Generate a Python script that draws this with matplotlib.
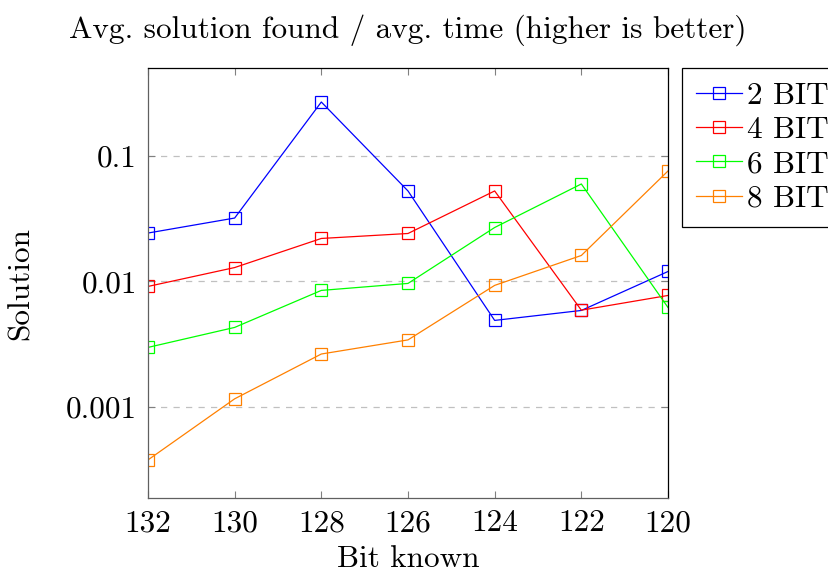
import matplotlib
matplotlib.use("Agg")
import matplotlib.pyplot as plt
from matplotlib.ticker import FixedLocator, NullLocator

plt.rcParams["font.family"] = ["cmr10", "DejaVu Serif"]
plt.rcParams["mathtext.fontset"] = "cm"
plt.rcParams["axes.formatter.use_mathtext"] = True

bits_known = [132, 130, 128, 126, 124, 122, 120]
bit_2 = [0.0243, 0.0320, 0.269, 0.0526, 0.00489, 0.00587, 0.0120]
bit_4 = [0.00912, 0.0129, 0.0220, 0.0241, 0.0526, 0.00590, 0.00773]
bit_6 = [0.00298, 0.00430, 0.00848, 0.00964, 0.0269, 0.0598, 0.00620]
bit_8 = [0.000378, 0.00116, 0.00264, 0.00342, 0.00930, 0.0161, 0.0759]
series_labels = ["2 BIT", "4 BIT", "6 BIT", "8 BIT"]
series_colors = ["#0000ff", "#ff0000", "#00ff00", "#ff8000"]
y_tick_values = [0.001, 0.01, 0.1]
y_tick_labels = ["0.001", "0.01", "0.1"]

FS = 22.5

fig = plt.figure(figsize=(8.29, 5.73), dpi=100)
ax = fig.add_axes([0.1785, 0.1309, 0.6273, 0.7504])

for ys, lab, col in zip([bit_2, bit_4, bit_6, bit_8], series_labels, series_colors):
    ax.plot(bits_known, ys, color=col, lw=0.9, marker="s", markersize=8,
            markerfacecolor="none", markeredgecolor=col, markeredgewidth=0.9,
            label=lab)

ax.set_yscale("log")
ax.set_ylim(1.88e-4, 0.502)
ax.set_xlim(132, 120)
ax.set_xticks(bits_known)
ax.set_xticklabels([str(b) for b in bits_known])
ax.yaxis.set_major_locator(FixedLocator(y_tick_values))
ax.yaxis.set_minor_locator(NullLocator())
ax.set_yticklabels(y_tick_labels)

ax.grid(axis="y", which="major", color="#c0c0c0", linestyle=(0, (5, 5)), lw=0.9)
ax.tick_params(which="both", direction="in", top=True, right=True,
               length=5, width=0.8, color="#808080", labelsize=FS, pad=8)

for side in ["left", "bottom"]:
    ax.spines[side].set_color("#606060")
for side in ["top", "right"]:
    ax.spines[side].set_color("black")
for sp in ax.spines.values():
    sp.set_linewidth(0.9)

ax.set_title("Avg. solution found / avg. time (higher is better)", fontsize=FS, pad=22)
ax.set_xlabel("Bit known", fontsize=FS, labelpad=6)
ax.set_ylabel("Solution", fontsize=FS, labelpad=22)

leg = ax.legend(loc="upper left", bbox_to_anchor=(1.026, 1.0), fontsize=FS,
                frameon=True, fancybox=False, edgecolor="black", framealpha=1,
                borderpad=0.45, labelspacing=0.2, handlelength=1.5,
                handletextpad=0.13, borderaxespad=0)
leg.get_frame().set_linewidth(0.9)

fig.savefig("out.png", dpi=100)
